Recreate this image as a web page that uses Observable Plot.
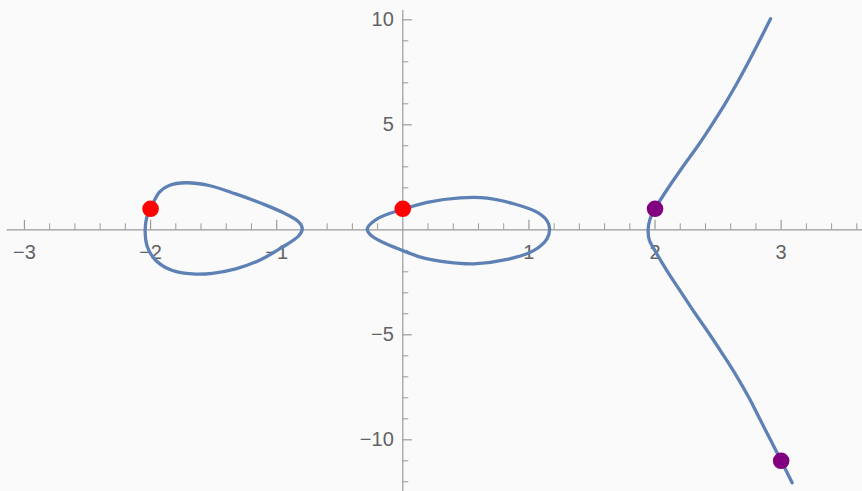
<!DOCTYPE html>
<html><head><meta charset="utf-8">
<script src="https://cdn.jsdelivr.net/npm/d3@7"></script>
<script src="https://cdn.jsdelivr.net/npm/@observablehq/plot@0.6"></script>
<style>
html,body{margin:0;padding:0;background:#fafafa;}
#chart svg{display:block;}
</style></head>
<body><div id="chart"></div>
<script>
// Traced points of the curve (x, y)
const leftLoop = [
  [-2.043,-0.11],[-2.03,0.6],[-2.0,1.0],[-1.93,1.79],[-1.853,2.11],[-1.72,2.24],
  [-1.536,2.11],[-1.325,1.71],[-1.113,1.24],[-0.929,0.76],[-0.823,0.36],[-0.797,0.05],
  [-0.823,-0.27],[-0.955,-0.83],[-1.14,-1.46],[-1.325,-1.86],[-1.509,-2.07],[-1.667,-2.1],
  [-1.826,-1.94],[-1.958,-1.46],[-2.024,-0.83]
];
const middleLoop = [
  [-0.282,0.05],[-0.203,0.52],[0,0.98],[0.193,1.31],[0.457,1.52],[0.668,1.51],
  [0.879,1.24],[1.064,0.84],[1.143,0.44],[1.164,0.05],[1.143,-0.43],[1.037,-0.99],
  [0.827,-1.41],[0.562,-1.62],[0.352,-1.54],[0.14,-1.3],[0,-0.99],[-0.15,-0.62],[-0.256,-0.24]
];
const rightBranch = [
  [2.916,10.05],[2.828,9],[2.742,8],[2.652,7],[2.555,6],[2.45,5],[2.34,4],
  [2.22,3],[2.105,2],[2.0,1.0],[1.96,0.5],[1.945,0],[1.955,-0.5],[2.0,-1.0],
  [2.1,-2],[2.21,-3],[2.32,-4],[2.435,-5],[2.545,-6],[2.65,-7],[2.745,-8],[2.83,-9],
  [2.915,-10],[3.0,-11.0],[3.087,-12.05]
];
const redPoints = [[-2,1],[0,1]];
const purplePoints = [[2,1],[3,-11]];

// Axis ticks and labels
const xMajor = [-3,-2,-1,1,2,3];
const xMinor = [-2.8,-2.6,-2.4,-2.2,-1.8,-1.6,-1.4,-1.2,-0.8,-0.6,-0.4,-0.2,0.2,0.4,0.6,0.8,1.2,1.4,1.6,1.8,2.2,2.4,2.6,2.8,3.2,3.4,3.6];
const yMajor = [10,5,-5,-10];
const yMinor = [9,8,7,6,4,3,2,1,-1,-2,-3,-4,-6,-7,-8,-9,-11,-12];

const fmt = d => d < 0 ? "\u2212" + Math.abs(d) : String(d);
const axisColor = "#9a9a9a";
const labelColor = "#636363";
const font = "'Liberation Sans', Arial, sans-serif";

const chart = Plot.plot({
  width: 862, height: 491,
  marginTop: 0, marginRight: 0, marginBottom: 0, marginLeft: 0,
  style: {background: "#fafafa", fontFamily: font, overflow: "visible"},
  x: {domain: [-3.190, 3.645], axis: null},
  y: {domain: [-12.462, 10.919], axis: null},
  marks: [
    Plot.ruleY([0], {x1: -3.137, x2: 3.645, stroke: axisColor, strokeWidth: 1.2}),
    Plot.ruleX([0], {y1: -12.462, y2: 10.44, stroke: axisColor, strokeWidth: 1.2}),
    Plot.ruleX(xMajor, {x: d => d, y1: 0, y2: 0, insetTop: -9.5, stroke: axisColor, strokeWidth: 1.2}),
    Plot.ruleX(xMinor, {x: d => d, y1: 0, y2: 0, insetTop: -6, stroke: axisColor, strokeWidth: 1}),
    Plot.ruleY(yMajor, {y: d => d, x1: 0, x2: 0, insetRight: -9.5, stroke: axisColor, strokeWidth: 1.2}),
    Plot.ruleY(yMinor, {y: d => d, x1: 0, x2: 0, insetRight: -6, stroke: axisColor, strokeWidth: 1}),
    Plot.text(xMajor, {x: d => d, y: 0, text: fmt, dy: 23, fontSize: 20, fill: labelColor}),
    Plot.text(yMajor, {x: 0, y: d => d, text: fmt, dx: -9, textAnchor: "end", fontSize: 20, fill: labelColor}),
    Plot.line(leftLoop, {x: d => d[0], y: d => d[1], curve: "catmull-rom-closed", stroke: "#5E81B5", strokeWidth: 3.3}),
    Plot.line(middleLoop, {x: d => d[0], y: d => d[1], curve: "catmull-rom-closed", stroke: "#5E81B5", strokeWidth: 3.3}),
    Plot.line(rightBranch, {x: d => d[0], y: d => d[1], curve: "catmull-rom", stroke: "#5E81B5", strokeWidth: 3.3}),
    Plot.dot(redPoints, {x: d => d[0], y: d => d[1], r: 8.3, fill: "#FF0000", stroke: null}),
    Plot.dot(purplePoints, {x: d => d[0], y: d => d[1], r: 8.3, fill: "#800080", stroke: null})
  ]
});
document.getElementById("chart").appendChild(chart);
</script>
</body></html>
